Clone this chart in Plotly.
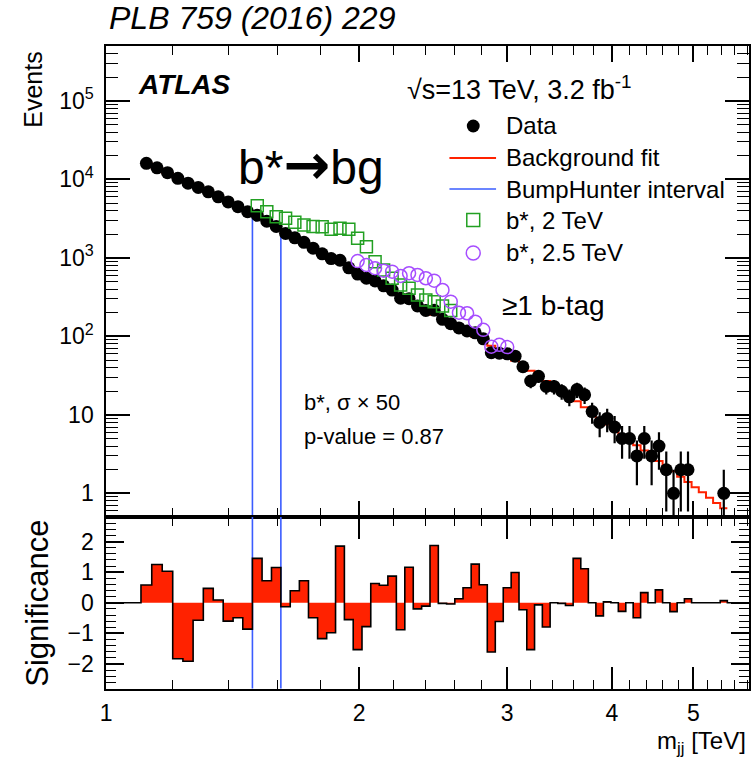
import numpy as np
import plotly.graph_objects as go

# ---------------------------------------------------------------------------
# Dijet invariant mass spectrum, >=1 b-tag category (ATLAS, 13 TeV, 3.2 fb-1)
# ---------------------------------------------------------------------------

# bin edges of the m_jj histogram [TeV]
mjj_edges = [
    1.100, 1.133, 1.166, 1.200, 1.234, 1.269, 1.305, 1.341, 1.378, 1.416,
    1.454, 1.493, 1.533, 1.573, 1.614, 1.656, 1.698, 1.741, 1.785, 1.830,
    1.875, 1.921, 1.968, 2.016, 2.065, 2.114, 2.164, 2.215, 2.267, 2.320,
    2.374, 2.429, 2.485, 2.542, 2.600, 2.659, 2.719, 2.780, 2.842, 2.905,
    2.969, 3.034, 3.100, 3.167, 3.235, 3.305, 3.376, 3.448, 3.521, 3.596,
    3.672, 3.749, 3.827, 3.907, 3.988, 4.070, 4.154, 4.239, 4.326, 4.414,
    4.504, 4.595, 4.688, 4.782, 4.878, 4.975, 5.074, 5.175, 5.277, 5.381,
    5.487, 5.595, 5.705, 5.817,
]

# observed events per bin
data_events = [
    16030, 14030, 12180, 10310, 8950, 7885, 6935, 6000, 5160, 4485,
    3870, 3490, 2930, 2510, 2050, 1800, 1578, 1327, 1126, 980,
    933, 746, 621, 552, 509, 441, 389, 306, 302, 244,
    214, 215, 165, 145, 128, 117, 111, 93, 62, 61,
    60, 56, 41, 27, 31, 23, 23, 20, 17, 21,
    18, 11, 8, 9, 7, 5, 5, 3, 5, 3,
    4, 2, 1, 2, 2, 0, 0, 0, 0, 1,
    0, 0, 0,
]

# background fit prediction per bin (fit range ends at the last populated bin)
background_fit = [
    15960, 13880, 12070, 10500, 9137, 7936, 6897, 5995, 5204, 4519,
    3926, 3406, 2890, 2453, 2056, 1785, 1550, 1345, 1166, 1011,
    878, 761, 660, 571, 495, 429, 372, 322, 282, 247,
    216, 189, 165, 145, 126, 112, 98.7, 87.2, 76.1, 65.7,
    56.7, 49.0, 42.3, 36.5, 31.4, 27.1, 23.3, 20.1, 17.3, 14.9,
    12.5, 10.5, 8.86, 7.52, 6.47, 5.56, 4.78, 4.10, 3.52, 3.02,
    2.59, 2.22, 1.91, 1.63, 1.40, 1.20, 1.03, 0.88, 0.754, 0.645,
]

# bin-by-bin significance of data vs background
significance = [
    0.58, 1.25, 1.03, -1.83, -1.91, -0.57, 0.47, 0.09, -0.60, -0.49,
    -0.86, 1.45, 0.72, 1.15, -0.13, 0.39, 0.72, -0.49, -1.17, -0.98,
    1.85, -0.55, -1.53, -0.78, 0.63, 0.57, 0.87, -0.88, 1.16, -0.20,
    -0.11, 1.87, -0.02, -0.04, 0.13, 0.49, 1.26, 0.59, -1.61, -0.61,
    0.49, 0.99, -0.23, -1.53, -0.07, -0.79, 0.00, -0.02, -0.09, 1.45,
    1.11, 0.00, -0.43, 0.03, 0.00, -0.28, 0.00, -0.49, 0.33, 0.00,
    0.42, 0.00, -0.29, 0.00, 0.13, 0.00, 0.00, 0.00, 0.00, 0.07,
    0.00, 0.00, 0.00,
]

# background + b* signal (cross-section x 50), 2 TeV mass, bins 12..34
bstar_2tev_first_bin = 11
bstar_2tev = [
    4620, 3880, 3350, 3200, 2850, 2625, 2510, 2500, 2310, 2380,
    2310, 1780, 1390, 895, 700, 550, 452, 410, 337, 291,
    277, 244, 214,
]

# background + b* signal (cross-section x 50), 2.5 TeV mass, bins 23..41
bstar_2p5tev_first_bin = 22
bstar_2p5tev = [
    910, 812, 738, 687, 667, 588, 637, 606, 550, 512,
    390, 277, 200, 197, 154, 121, 74, 78, 73,
]

# most discrepant interval found by BumpHunter [TeV]
bumphunter_interval = (1.493, 1.614)

x_tick_values = [1, 2, 3, 4, 5]
x_tick_labels = ["1", "2", "3", "4", "5"]
y_tick_values = [1, 10, 100, 1e3, 1e4, 1e5]
y_tick_labels = ["1", "10", "10<sup>2</sup>", "10<sup>3</sup>", "10<sup>4</sup>", "10<sup>5</sup>"]
sig_tick_values = [-2, -1, 0, 1, 2]
sig_tick_labels = ["\u22122", "\u22121", "0", "1", "2"]

# ---------------------------------------------------------------------------
edges = np.array(mjj_edges)
centres = 0.5 * (edges[:-1] + edges[1:])
n_obs = np.array(data_events, dtype=float)
bkg = np.array(background_fit, dtype=float)
sig = np.array(significance, dtype=float)

FONT = "Liberation Sans, Arial, Helvetica, sans-serif"
RED = "#ff2200"
BLUE = "#3a5cff"
GREEN = "#22a022"
VIOLET = "#a64dff"

W, H = 751, 760


def px(x):
    return x / W


def py(y):
    return 1 - y / H


# panel geometry (paper fractions)
X_DOM = [px(101), px(749)]
MAIN_DOM = [py(517), py(46)]
SIG_DOM = [py(688.5), py(517)]

X_RANGE = [0.0, np.log10(5.823)]
Y_RANGE = [np.log10(0.5), np.log10(5e5)]
SIG_RANGE = [-2.8, 2.8]

fig = go.Figure()

# BumpHunter interval markers (drawn first, below data)
for xe in bumphunter_interval:
    top = bkg[int(np.argmin(np.abs(edges[:len(bkg)] - xe)))]
    fig.add_trace(go.Scatter(
        x=[xe, xe], y=[top, 0.3], mode="lines",
        line=dict(color=BLUE, width=1.6),
        xaxis="x", yaxis="y", hoverinfo="skip", showlegend=False,
    ))
    fig.add_trace(go.Scatter(
        x=[xe, xe], y=[SIG_RANGE[1] + 1, SIG_RANGE[0] - 1], mode="lines",
        line=dict(color=BLUE, width=1.6),
        xaxis="x2", yaxis="y2", hoverinfo="skip", showlegend=False,
    ))

# background fit as a step histogram
nb = len(bkg)
fig.add_trace(go.Scatter(
    x=edges[:nb + 1], y=np.append(bkg, bkg[-1]), mode="lines",
    line=dict(color=RED, width=2, shape="hv"),
    xaxis="x", yaxis="y", hoverinfo="skip", showlegend=False,
))

# data with Poisson uncertainties
has_data = n_obs > 0
err = np.sqrt(n_obs[has_data])
err_dn = np.minimum(err, n_obs[has_data] - 0.01)
fig.add_trace(go.Scatter(
    x=centres[has_data], y=n_obs[has_data], mode="markers",
    marker=dict(symbol="circle", size=13, color="black"),
    error_y=dict(type="data", array=err, arrayminus=err_dn,
                 color="black", thickness=2.2, width=0),
    xaxis="x", yaxis="y", showlegend=False,
))

# signal hypotheses on top of the background
i0 = bstar_2tev_first_bin
fig.add_trace(go.Scatter(
    x=centres[i0:i0 + len(bstar_2tev)], y=bstar_2tev, mode="markers",
    marker=dict(symbol="square-open", size=12, color=GREEN, line=dict(width=1.5)),
    xaxis="x", yaxis="y", showlegend=False,
))
i0 = bstar_2p5tev_first_bin
fig.add_trace(go.Scatter(
    x=centres[i0:i0 + len(bstar_2p5tev)], y=bstar_2p5tev, mode="markers",
    marker=dict(symbol="circle-open", size=13, color=VIOLET, line=dict(width=1.5)),
    xaxis="x", yaxis="y", showlegend=False,
))

# significance panel: filled step histogram
sig_x = np.concatenate([[1.0], edges])
sig_y = np.concatenate([[0.0], sig, [sig[-1]]])
fig.add_trace(go.Scatter(
    x=sig_x, y=sig_y, mode="lines",
    line=dict(color="black", width=1.6, shape="hv"),
    fill="tozeroy", fillcolor=RED,
    xaxis="x2", yaxis="y2", hoverinfo="skip", showlegend=False,
))

# ---------------------------------------------------------------------------
axis_common = dict(
    showline=True, linecolor="black", linewidth=1.8, mirror="allticks",
    ticks="inside", tickcolor="black", tickwidth=1.5,
    showgrid=False, zeroline=False,
    tickfont=dict(family=FONT, size=23, color="black"),
)

x_minor = [round(v, 1) for v in np.arange(1.2, 5.81, 0.2) if abs(v - round(v)) > 1e-6]
y_minor = [m * 10.0 ** k for k in range(-1, 6) for m in range(2, 10)
           if 0.5 < m * 10.0 ** k < 5e5]
sig_minor = [round(v, 1) for v in np.arange(-2.8, 2.81, 0.2) if abs(v - round(v)) > 1e-6]

fig.update_layout(
    width=W, height=H,
    margin=dict(l=0, r=0, t=0, b=0),
    paper_bgcolor="white", plot_bgcolor="white",
    showlegend=False,
    font=dict(family=FONT, color="black"),
    xaxis=dict(
        axis_common, type="log", range=X_RANGE, domain=X_DOM, anchor="y",
        tickvals=x_tick_values, showticklabels=False, ticklen=16,
        minor=dict(tickvals=x_minor, ticks="inside", ticklen=9, tickcolor="black", tickwidth=1.2),
    ),
    yaxis=dict(
        axis_common, type="log", range=Y_RANGE, domain=MAIN_DOM, anchor="x",
        tickvals=y_tick_values, ticktext=y_tick_labels, ticklen=24,
        ticklabelstandoff=6,
        minor=dict(tickvals=y_minor, ticks="inside", ticklen=12, tickcolor="black", tickwidth=1.2),
    ),
    xaxis2=dict(
        axis_common, type="log", range=X_RANGE, domain=X_DOM, anchor="y2",
        tickvals=x_tick_values, ticktext=x_tick_labels, ticklen=22,
        ticklabelstandoff=3,
        minor=dict(tickvals=x_minor, ticks="inside", ticklen=9, tickcolor="black", tickwidth=1.2),
    ),
    yaxis2=dict(
        axis_common, range=SIG_RANGE, domain=SIG_DOM, anchor="x2",
        tickvals=sig_tick_values, ticktext=sig_tick_labels, ticklen=18,
        ticklabelstandoff=6,
        minor=dict(tickvals=sig_minor, ticks="inside", ticklen=10, tickcolor="black", tickwidth=1.2),
    ),
)

# ---------------------------------------------------------------------------
# text labels
def label(text, x, y, size, xanchor="left", yanchor="middle", angle=0, **kw):
    fig.add_annotation(
        text=text, x=px(x), y=py(y), xref="paper", yref="paper",
        xanchor=xanchor, yanchor=yanchor, textangle=angle, showarrow=False,
        font=dict(family=FONT, size=size, color="black"), **kw,
    )


label("<i>PLB 759 (2016) 229</i>", 102, 18, 32)
label("<b><i>ATLAS</i></b>", 131, 85, 28)
label("\u221As=13 TeV, 3.2 fb<sup>-1</sup>", 402, 88, 27)
label("b*<span style=\"font-family:'DejaVu Sans';font-weight:bold;font-size:56px\">\u2192</span>bg",
      232, 165, 48)
label("\u22651 b-tag", 498, 305, 28)
label("b*, \u03c3 \u00d7 50", 298, 402, 22)
label("p-value = 0.87", 298, 437, 22)
label("Events", 27, 50, 25, xanchor="center", yanchor="top", angle=-90)
label("Significance", 31, 603, 31, xanchor="center", yanchor="middle", angle=-90)
label("m<sub>jj</sub> [TeV]", 748, 759.5, 24, xanchor="right", yanchor="bottom")

# legend block
leg_text_x = 502
leg_rows = [126, 158, 189, 220, 253]
leg_names = ["Data", "Background fit", "BumpHunter interval", "b*, 2 TeV", "b*, 2.5 TeV"]
for yy, name in zip(leg_rows, leg_names):
    label(name, leg_text_x, yy, 24)

kx = 471
fig.add_shape(type="circle", xref="paper", yref="paper",
              x0=px(kx - 6.5), x1=px(kx + 6.5), y0=py(leg_rows[0] + 6.5), y1=py(leg_rows[0] - 6.5),
              fillcolor="black", line=dict(color="black", width=0))
fig.add_shape(type="line", xref="paper", yref="paper",
              x0=px(447), x1=px(494), y0=py(leg_rows[1]), y1=py(leg_rows[1]),
              line=dict(color=RED, width=2))
fig.add_shape(type="line", xref="paper", yref="paper",
              x0=px(447), x1=px(494), y0=py(leg_rows[2]), y1=py(leg_rows[2]),
              line=dict(color=BLUE, width=1.6))
fig.add_shape(type="rect", xref="paper", yref="paper",
              x0=px(kx - 6.5), x1=px(kx + 6.5), y0=py(leg_rows[3] + 6.5), y1=py(leg_rows[3] - 6.5),
              line=dict(color=GREEN, width=1.5))
fig.add_shape(type="circle", xref="paper", yref="paper",
              x0=px(kx - 7), x1=px(kx + 7), y0=py(leg_rows[4] + 7), y1=py(leg_rows[4] - 7),
              line=dict(color=VIOLET, width=1.5))

fig.write_html("out.html")
